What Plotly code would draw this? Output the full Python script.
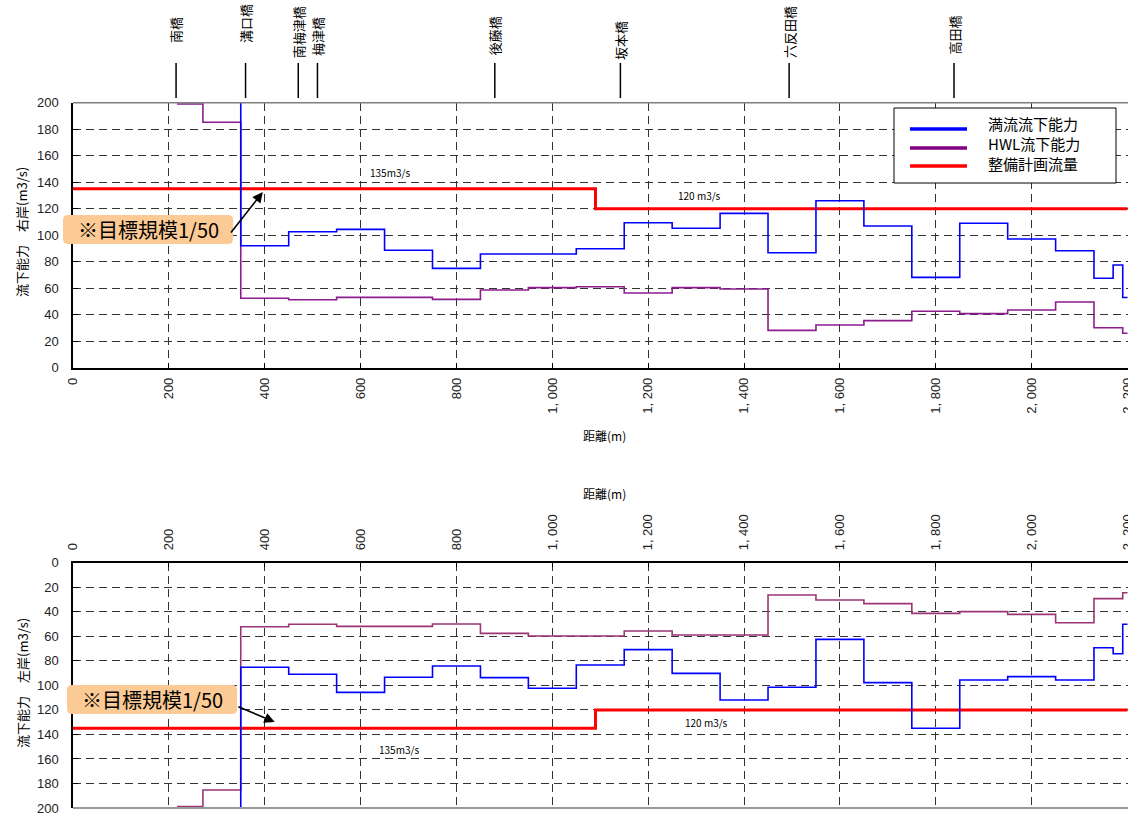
import plotly.graph_objects as go

# ---------------- data ----------------
bridges = ["南橋", "溝口橋", "南梅津橋", "梅津橋", "後藤橋", "坂本橋", "六反田橋", "高田橋"]
bridge_dist = [215, 360, 470, 510, 880, 1142, 1494, 1838]

x_ticks = [0, 200, 400, 600, 800, 1000, 1200, 1400, 1600, 1800, 2000, 2200]
x_tick_labels = ["0", "200", "400", "600", "800", "1, 000", "1, 200", "1, 400",
                 "1, 600", "1, 800", "2, 000", "2, 200"]
y_ticks = [0, 20, 40, 60, 80, 100, 120, 140, 160, 180, 200]

# planned design flow (整備計画流量)
plan_x = [0, 1090, 2200]
plan_q = [135, 120, 120]

# right bank (右岸)
right_full_x = [350, 350, 450, 550, 650, 750, 850, 1050, 1150, 1250, 1350, 1450,
                1550, 1650, 1750, 1850, 1950, 2050, 2130, 2170, 2190, 2200]
right_full_q = [250, 92, 102.6, 104.4, 88.6, 75, 85.8, 89.8, 109.4, 105.2, 116.5, 86.7,
                126, 107, 68.2, 109, 97.1, 88.3, 67.5, 77.5, 53, 53]
right_hwl_x = [217, 271, 350, 450, 550, 750, 850, 950, 1050, 1150, 1250, 1350, 1450,
               1550, 1650, 1750, 1850, 1950, 2050, 2130, 2190, 2200]
right_hwl_q = [199, 185.2, 52.4, 51.3, 53.1, 51.6, 58.6, 60.4, 61.1, 56.4, 60.4, 59.4, 28.2,
               32.2, 35.5, 42.6, 40.8, 43.5, 49.6, 30.2, 26, 26]

# left bank (左岸)
left_full_x = [350, 350, 450, 550, 650, 750, 850, 950, 1050, 1150, 1250, 1350, 1450,
               1550, 1650, 1750, 1850, 1950, 2050, 2130, 2170, 2190, 2200]
left_full_q = [250, 85.3, 91, 105.7, 93.4, 84.2, 93.7, 102.4, 83.4, 70.9, 90.2, 111.9, 101.6,
               62.5, 97.8, 135, 95.6, 92.9, 95.6, 69.3, 74.2, 50.2, 50.2]
left_hwl_x = [217, 271, 350, 450, 550, 750, 850, 950, 1150, 1250, 1450,
              1550, 1650, 1750, 1850, 1950, 2050, 2130, 2190, 2200]
left_hwl_q = [198.9, 185.3, 52.2, 50.2, 51.9, 50, 57.6, 59.8, 55.7, 59, 26.3,
              30.4, 33.4, 41.3, 39.9, 42.1, 48.9, 29.3, 24.5, 24.5]

legend_names = ["満流流下能力", "HWL流下能力", "整備計画流量"]
legend_colors = ["#0000FF", "#800080", "#FF0000"]

# ---------------- layout helpers ----------------
W, H = 1128, 818
ML = 73
JP = "Noto Sans CJK JP"
NUM = "Liberation Sans"


def px_x(px):
    """screen pixel x -> paper x"""
    return (px - ML) / (W - ML)


def px_y(py):
    """screen pixel y -> paper y"""
    return 1 - py / H


BLUE = "#0000FF"
RED = "#FF0000"
PURPLE_TOP = "#8A1C8E"
PURPLE_BOT = "#9B3573"

fig = go.Figure()

# top chart traces
fig.add_trace(go.Scatter(x=plan_x, y=plan_q, mode="lines", name=legend_names[2],
                         line=dict(color=RED, width=3, shape="hv"),
                         xaxis="x", yaxis="y", showlegend=False))
fig.add_trace(go.Scatter(x=right_hwl_x, y=right_hwl_q, mode="lines", name=legend_names[1],
                         line=dict(color=PURPLE_TOP, width=1.6, shape="hv"),
                         xaxis="x", yaxis="y", showlegend=False))
fig.add_trace(go.Scatter(x=right_full_x, y=right_full_q, mode="lines", name=legend_names[0],
                         line=dict(color=BLUE, width=1.6, shape="hv"),
                         xaxis="x", yaxis="y", showlegend=False))

# bottom chart traces
fig.add_trace(go.Scatter(x=plan_x, y=plan_q, mode="lines", name=legend_names[2],
                         line=dict(color=RED, width=3, shape="hv"),
                         xaxis="x2", yaxis="y2", showlegend=False))
fig.add_trace(go.Scatter(x=left_hwl_x, y=left_hwl_q, mode="lines", name=legend_names[1],
                         line=dict(color=PURPLE_BOT, width=1.6, shape="hv"),
                         xaxis="x2", yaxis="y2", showlegend=False))
fig.add_trace(go.Scatter(x=left_full_x, y=left_full_q, mode="lines", name=legend_names[0],
                         line=dict(color=BLUE, width=1.6, shape="hv"),
                         xaxis="x2", yaxis="y2", showlegend=False))

grid = dict(showgrid=True, gridcolor="#333333", gridwidth=1, griddash="8px,5px",
            zeroline=False, showline=True, linecolor="black", linewidth=1.5,
            ticks="inside", ticklen=5, tickcolor="black")

xcommon = dict(range=[0, 2201], tickvals=x_ticks, ticktext=x_tick_labels, tickangle=-90,
               ticklabeloverflow="allow",
               tickfont=dict(family=NUM, size=13, color="#222"), automargin=False, **grid)
ycommon = dict(tickvals=y_ticks, tickfont=dict(family=NUM, size=13, color="#222"),
               ticklabelstandoff=10, automargin=False, **grid)

fig.update_layout(
    width=W, height=H,
    margin=dict(l=ML, r=0, t=0, b=0),
    paper_bgcolor="white", plot_bgcolor="white",
    showlegend=False,
    xaxis=dict(domain=[0, 1], anchor="y", side="bottom", ticklabelstandoff=3, **xcommon),
    yaxis=dict(domain=[px_y(367.7), px_y(102.7)], range=[0, 200], anchor="x", **ycommon),
    xaxis2=dict(domain=[0, 1], anchor="y2", side="top", ticklabelstandoff=8, **xcommon),
    yaxis2=dict(domain=[px_y(808), px_y(562.7)], range=[200, 0], anchor="x2", **ycommon),
)

shapes = []
annotations = []

# top border of upper chart, bottom border of lower chart (grey)
shapes.append(dict(type="line", xref="x domain", yref="y domain", x0=0, x1=1, y0=1, y1=1,
                   line=dict(color="#808080", width=1.5)))
shapes.append(dict(type="line", xref="x2 domain", yref="y2 domain", x0=0, x1=1, y0=0, y1=0,
                   line=dict(color="#999999", width=2)))

# bridge markers
label_bottom_px = [45, 45, 60, 58, 57, 62, 60, 57]
for name, d, lb in zip(bridges, bridge_dist, label_bottom_px):
    shapes.append(dict(type="line", xref="x", yref="paper", x0=d, x1=d,
                       y0=px_y(98), y1=px_y(63), line=dict(color="black", width=1.5)))
    annotations.append(dict(text=name, xref="x", yref="paper", x=d, y=px_y(lb),
                            xanchor="center", yanchor="bottom", textangle=-90,
                            showarrow=False, font=dict(family=JP, size=13, color="black")))

# flow labels
annotations += [
    dict(text="135m3/s", xref="x", yref="y", x=661, y=147.7, showarrow=False,
         font=dict(family=JP, size=10, color="black")),
    dict(text="120 m3/s", xref="x", yref="y", x=1307, y=129.6, showarrow=False,
         font=dict(family=JP, size=10, color="black")),
    dict(text="135m3/s", xref="x2", yref="y2", x=680, y=151.9, showarrow=False,
         font=dict(family=JP, size=10, color="black")),
    dict(text="120 m3/s", xref="x2", yref="y2", x=1322, y=129.9, showarrow=False,
         font=dict(family=JP, size=10, color="black")),
]

# axis titles
annotations += [
    dict(text="流下能力　右岸(m3/s)", xref="paper", yref="paper", x=px_x(22), y=px_y(232),
         xanchor="center", yanchor="middle",
         textangle=-90, showarrow=False, font=dict(family=JP, size=13, color="black")),
    dict(text="流下能力　左岸(m3/s)", xref="paper", yref="paper", x=px_x(22), y=px_y(683),
         xanchor="center", yanchor="middle",
         textangle=-90, showarrow=False, font=dict(family=JP, size=13, color="black")),
    dict(text="距離(m)", xref="paper", yref="paper", x=px_x(604), y=px_y(435),
         xanchor="center", yanchor="middle",
         showarrow=False, font=dict(family=JP, size=12, color="black")),
    dict(text="距離(m)", xref="paper", yref="paper", x=px_x(604), y=px_y(494),
         xanchor="center", yanchor="middle",
         showarrow=False, font=dict(family=JP, size=12, color="black")),
]


def rounded_rect(x0, y0, x1, y1, r):
    # screen pixel coords -> paper path
    pts = [
        ("M", x0 + r, y0), ("L", x1 - r, y0), ("Q", x1, y0, x1, y0 + r),
        ("L", x1, y1 - r), ("Q", x1, y1, x1 - r, y1), ("L", x0 + r, y1),
        ("Q", x0, y1, x0, y1 - r), ("L", x0, y0 + r), ("Q", x0, y0, x0 + r, y0),
    ]
    out = []
    for p in pts:
        cmd = p[0]
        coords = p[1:]
        s = []
        for i in range(0, len(coords), 2):
            s.append(f"{px_x(coords[i]):.5f},{px_y(coords[i + 1]):.5f}")
        out.append(cmd + " " + " ".join(s))
    return " ".join(out) + " Z"


BOX_FILL = "#FCCA94"
# target scale boxes
for (bx0, by0, bx1, by1) in [(63, 215, 233, 244), (67, 685, 237, 714)]:
    shapes.append(dict(type="path", xref="paper", yref="paper",
                       path=rounded_rect(bx0, by0, bx1, by1, 5),
                       fillcolor=BOX_FILL, line=dict(width=0), layer="above"))
    annotations.append(dict(text="※目標規模1/50", xref="paper", yref="paper",
                            x=px_x((bx0 + bx1) / 2), y=px_y((by0 + by1) / 2),
                            xanchor="center", yanchor="middle",
                            showarrow=False, font=dict(family=JP, size=20, color="black")))

# arrows
annotations.append(dict(text="", xref="x", yref="y", x=396, y=132.6, ax=-33, ay=42,
                        showarrow=True, arrowhead=2, arrowsize=1.3, arrowwidth=1.6,
                        arrowcolor="black", standoff=0))
annotations.append(dict(text="", xref="x2", yref="y2", x=421, y=129.9, ax=-38, ay=-16,
                        showarrow=True, arrowhead=2, arrowsize=1.3, arrowwidth=1.6,
                        arrowcolor="black", standoff=0))

# legend (drawn manually)
shapes.append(dict(type="rect", xref="paper", yref="paper",
                   x0=px_x(894), x1=px_x(1116), y0=px_y(183), y1=px_y(108),
                   fillcolor="white", line=dict(color="black", width=1), layer="above"))
line_y = [129, 148, 166]
text_y = [123, 143, 163]
for name, col, ly, ty in zip(legend_names, legend_colors, line_y, text_y):
    shapes.append(dict(type="line", xref="paper", yref="paper",
                       x0=px_x(910), x1=px_x(967), y0=px_y(ly), y1=px_y(ly),
                       line=dict(color=col, width=3.5), layer="above"))
    annotations.append(dict(text=name, xref="paper", yref="paper", x=px_x(986), y=px_y(ty),
                            xanchor="left", yanchor="middle", showarrow=False,
                            font=dict(family=JP, size=15, color="black")))

fig.update_layout(shapes=shapes, annotations=annotations)

fig.write_html(
    "out.html",
    config={"displayModeBar": False},
    post_script="document.body.style.margin='0';document.body.style.overflow='hidden';",
)
